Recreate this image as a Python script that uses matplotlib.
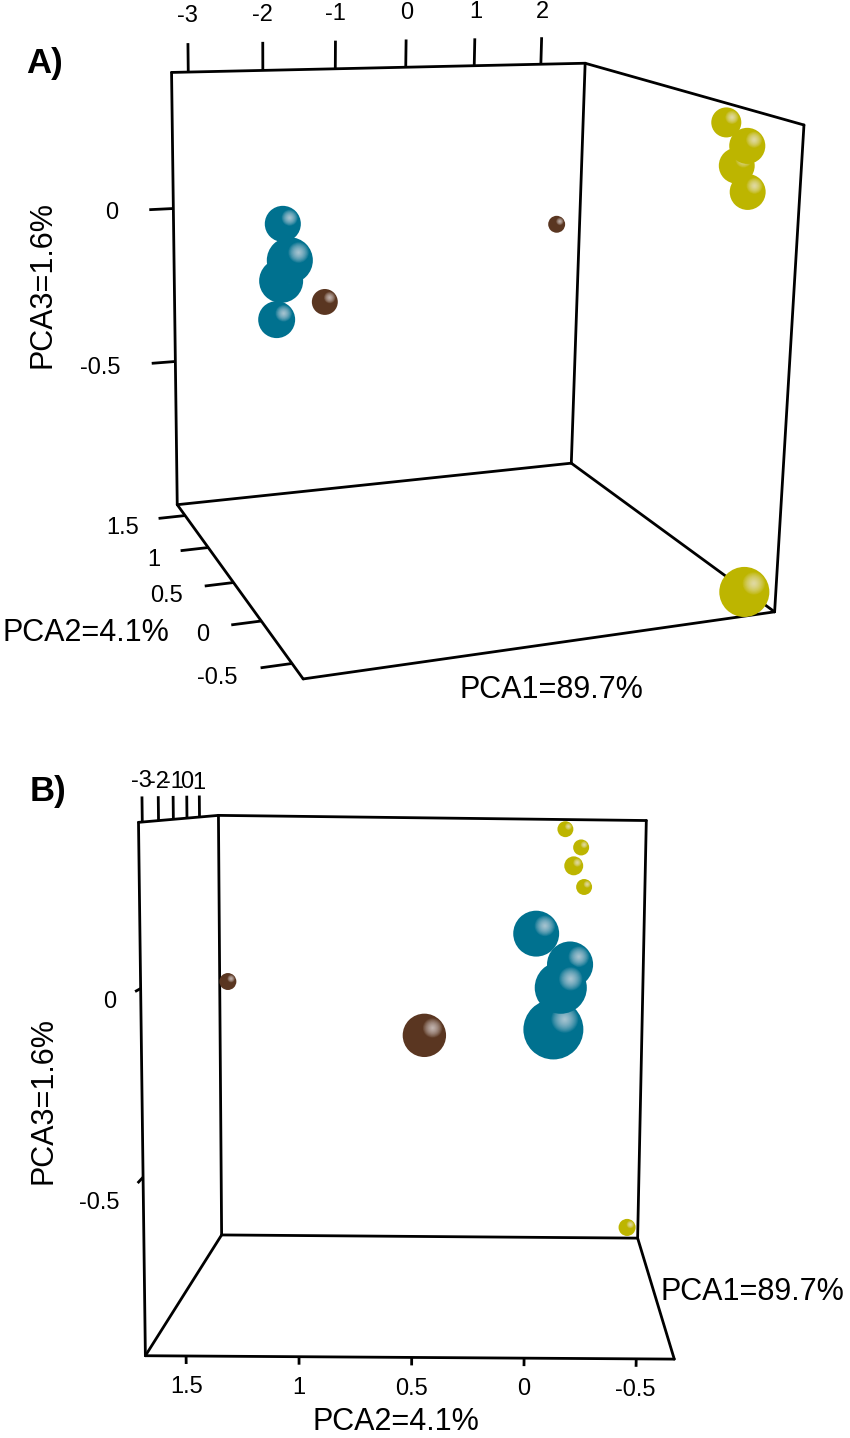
import numpy as np
import matplotlib
matplotlib.use("Agg")
import matplotlib.pyplot as plt
from matplotlib.patches import Circle

# PCA scores (PCA1, PCA2, PCA3) of the 11 samples
pca1 = [-2.98, -3.01, -3.08, -3.11, 2.31, 2.48, 2.41, 2.49, 2.35, -2.09, 2.24]
pca2 = [-0.03, -0.18, -0.14, -0.11, -0.22, -0.31, -0.27, -0.33, -0.60, 0.47, 1.61]
pca3 = [0.15, 0.07, 0.01, -0.10, 0.40, 0.34, 0.28, 0.21, -0.93, -0.15, -0.11]
group = ["blue", "blue", "blue", "blue", "yellow", "yellow", "yellow", "yellow",
         "yellow", "brown", "brown"]
# sphere sizes as rendered in each view
size_a = [16.1, 20.3, 19.5, 16.5, 14.2, 17.0, 17.0, 17.0, 24.1, 12.5, 9.6]
size_b = [20.2, 20.3, 22.9, 26.4, 8.7, 8.8, 10.4, 8.8, 9.6, 20.0, 9.3]

pc1_ticks = [-3, -2, -1, 0, 1, 2]
pc2_ticks = [1.5, 1, 0.5, 0, -0.5]
pc3_ticks = [0, -0.5]
pc1_label = "PCA1=89.7%"
pc2_label = "PCA2=4.1%"
pc3_label = "PCA3=1.6%"

colors = {"blue": "#00718f", "yellow": "#bdb500", "brown": "#5a3621"}

# bounding box of the 3d plot
x0, x1 = -3.22, 2.68
y0, y1 = -0.67, 1.68
z0, z1 = -0.985, 0.43


def fit_camera(world, img):
    # plain DLT with Hartley normalisation
    world = np.asarray(world, float)
    img = np.asarray(img, float)
    mu_i = img.mean(0)
    s_i = np.sqrt(2) / np.mean(np.linalg.norm(img - mu_i, axis=1))
    T = np.array([[s_i, 0, -s_i * mu_i[0]], [0, s_i, -s_i * mu_i[1]], [0, 0, 1]])
    mu_w = world.mean(0)
    s_w = np.sqrt(3) / np.mean(np.linalg.norm(world - mu_w, axis=1))
    U = np.diag([s_w, s_w, s_w, 1.0])
    U[:3, 3] = -s_w * mu_w
    wn = (U @ np.c_[world, np.ones(len(world))].T).T
    iN = (T @ np.c_[img, np.ones(len(img))].T).T
    rows = []
    for X, (u, v, _) in zip(wn, iN):
        rows.append(np.r_[X, np.zeros(4), -u * X])
        rows.append(np.r_[np.zeros(4), X, -v * X])
    _, _, Vt = np.linalg.svd(np.array(rows))
    P = np.linalg.inv(T) @ Vt[-1].reshape(3, 4) @ U
    c = np.array([(x0 + x1) / 2, (y0 + y1) / 2, (z0 + z1) / 2, 1])
    return P / (P[2] @ c)


def proj(P, X):
    X = np.atleast_2d(np.asarray(X, float))
    p = (P @ np.c_[X, np.ones(len(X))].T).T
    return p[:, 0] / p[:, 2], p[:, 1] / p[:, 2], p[:, 2]


corners = [(x0, y1, z1), (x1, y1, z1), (x1, y0, z1), (x0, y1, z0),
           (x1, y1, z0), (x1, y0, z0), (x0, y0, z0)]

# view A: where the box corners and tick marks sit on the page
world_a = list(corners)
img_a = [(171, 74), (587, 63), (805, 124), (178, 505), (571, 463), (773, 612), (303, 678)]
for v, u in zip(pc1_ticks, [188, 264, 335, 405, 473, 541]):
    world_a.append((v, y1, z1))
    img_a.append((u, 74 - 11 * (u - 171) / 416))
world_a += [(x0, y1, 0), (x0, y1, -0.5)]
img_a += [(172, 204), (175, 357)]
for v, p in zip(pc2_ticks, [(185, 517), (210, 549), (233, 584), (262, 622), (292, 663)]):
    world_a.append((x0, v, z0))
    img_a.append(p)

# view B
world_b = list(corners)
img_b = [(139, 825), (217, 817), (648, 820), (145, 1357), (222, 1234), (637, 1238), (671, 1360)]
for v, u in zip(pc2_ticks, [188, 300, 412, 525, 637]):
    world_b.append((x0, v, z0))
    img_b.append((u, 1358))
world_b += [(x0, y1, 0), (x0, y1, -0.5)]
img_b += [(140, 985), (142, 1173)]

PA = fit_camera(world_a, img_a)
PB = fit_camera(world_b, img_b)

edges = [((x0, y1, z1), (x1, y1, z1)), ((x0, y1, z1), (x0, y1, z0)),
         ((x1, y1, z1), (x1, y1, z0)), ((x1, y1, z1), (x1, y0, z1)),
         ((x1, y0, z1), (x1, y0, z0)), ((x0, y1, z0), (x1, y1, z0)),
         ((x1, y1, z0), (x1, y0, z0)), ((x0, y1, z0), (x0, y0, z0)),
         ((x0, y0, z0), (x1, y0, z0))]

fig = plt.figure(figsize=(8.5, 14.38), dpi=100)
ax = fig.add_axes([0, 0, 1, 1])
ax.set_xlim(0, 850)
ax.set_ylim(1438, 0)
ax.axis("off")

tick_font = dict(fontsize=17, family="Liberation Sans", color="black")
title_font = dict(fontsize=22, family="Liberation Sans", color="black")
LW = 2.0


def draw_axis(P, ticks, base, direction, length, k, ha, dy=0):
    for v in ticks:
        p0 = np.array(base(v), float)
        p1 = p0 + np.array(direction) * length
        u, w, _ = proj(P, [p0, p1])
        ax.plot(u, w, color="black", lw=LW, solid_capstyle="butt", zorder=2)
        lx = u[0] + k * (u[1] - u[0])
        ly = w[0] + k * (w[1] - w[0]) + dy
        ax.text(lx, ly, "%g" % v, ha=ha, va="center", **tick_font)


def draw_view(P, sizes, specs):
    for a, b in edges:
        u, w, _ = proj(P, [a, b])
        ax.plot(u, w, color="black", lw=LW, solid_capstyle="round", zorder=2)
    for spec in specs:
        draw_axis(P, *spec)

    u, w, depth = proj(P, np.c_[pca1, pca2, pca3])
    order = np.argsort(-depth)
    for rank, i in enumerate(order):
        r = sizes[i] / depth[i]
        z = 5 + rank * 0.1
        ax.add_patch(Circle((u[i], w[i]), r, fc=colors[group[i]], ec="none", zorder=z))
        # soft specular spot, upper right
        hx, hy = u[i] + 0.38 * r, w[i] - 0.34 * r
        n = 16
        for j in range(n):
            ax.add_patch(Circle((hx, hy), 0.45 * r * (1 - j / n), fc="#f6f0f3",
                                ec="none", alpha=0.07, zorder=z + 0.01))


draw_view(PA, size_a, [
    (pc1_ticks, lambda v: (v, y1, z1), (0, 0, 1), 0.09, 1.95, "center"),
    (pc3_ticks, lambda v: (x0, y1, v), (-1, 0, 0), 0.32, 2.3, "right", 2),
    (pc2_ticks, lambda v: (x0, v, z0), (-1, 0, 0), 0.36, 1.75, "right", 7),
])
draw_view(PB, size_b, [
    (pc1_ticks[:-1], lambda v: (v, y1, z1), (0, 0, 1), 0.066, 1.6, "center"),
    (pc3_ticks, lambda v: (x0, y1, v), (-1, 0, 0), 0.32, 4.4, "right"),
    (pc2_ticks, lambda v: (x0, v, z0), (0, 0, -1), 0.022, 3.9, "center"),
])

# axis titles and panel letters
ax.text(43, 285, pc3_label, rotation=90, ha="center", va="center", **title_font)
ax.text(86, 633, pc2_label, ha="center", va="center", **title_font)
ax.text(551, 690, pc1_label, ha="center", va="center", **title_font)
ax.text(44, 1100, pc3_label, rotation=90, ha="center", va="center", **title_font)
ax.text(396, 1422, pc2_label, ha="center", va="center", **title_font)
ax.text(752, 1292, pc1_label, ha="center", va="center", **title_font)
ax.text(45, 64, "A)", ha="center", va="center", fontsize=25, fontweight="bold",
        family="Liberation Sans")
ax.text(48, 792, "B)", ha="center", va="center", fontsize=25, fontweight="bold",
        family="Liberation Sans")

fig.savefig("out.png", dpi=100)
